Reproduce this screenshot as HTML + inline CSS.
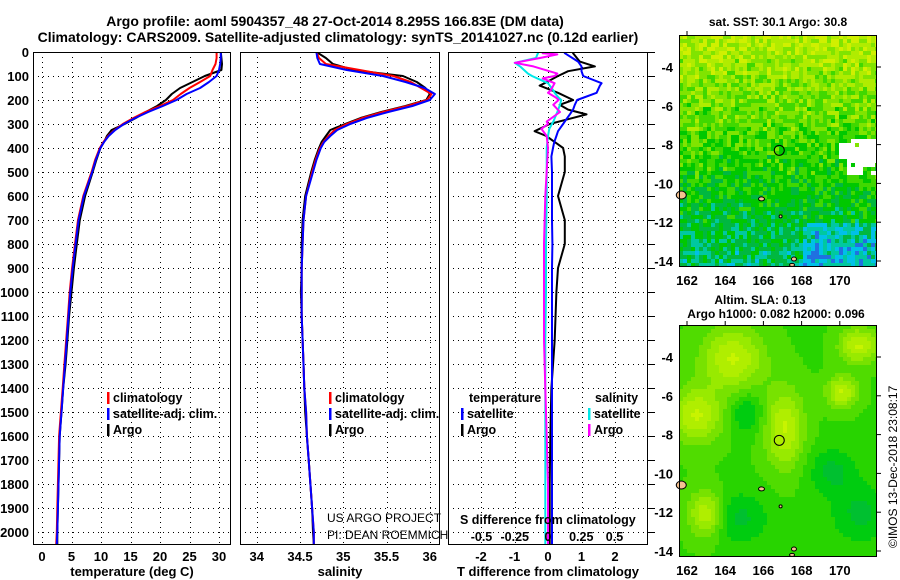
<!DOCTYPE html>
<html><head><meta charset="utf-8"><style>
html,body{margin:0;padding:0;background:#fff;}
svg{display:block;font-family:"Liberation Sans",sans-serif;}
.b{font-weight:bold;}
</style></head><body>
<svg id="fig" width="900" height="580" viewBox="0 0 900 580">
<text class="b" x="335" y="26" font-size="14" text-anchor="middle">Argo profile: aoml 5904357_48 27-Oct-2014 8.295S 166.83E (DM data)</text>
<text class="b" x="338" y="42" font-size="14" text-anchor="middle">Climatology: CARS2009. Satellite-adjusted climatology: synTS_20141027.nc (0.12d earlier)</text>
<g id="plots"></g>
<g id="maps"></g>
<text x="897" y="548" font-size="12" transform="rotate(-90 897 548)">©IMOS 13-Dec-2018 23:08:17</text>
</svg>
<script>
// ---- data ----
const profDepth = [0,25,50,75,100,125,150,175,200,225,250,275,300,325,350,375,400,450,500,600,700,800,900,1000,1100,1200,1300,1400,1500,1600,1700,1800,1900,2000,2050];
const tempClim = [29.6,29.6,29.4,28.9,28.5,26.8,25,23.5,22.2,20,17.5,15.5,13.7,12.3,11.2,10.4,9.8,9,8.4,7,6.1,5.6,5.1,4.7,4.4,4.1,3.8,3.5,3.2,2.9,2.8,2.7,2.6,2.5,2.4];
const tempSat = [30.3,30.3,30.2,30,29.6,28.3,26.8,24.5,22.8,20.5,18,15.8,13.9,12.4,11.3,10.5,9.9,9.1,8.5,7.1,6.2,5.7,5.2,4.8,4.5,4.2,3.9,3.6,3.3,3.0,2.9,2.8,2.7,2.6,2.5];
const tempArgo = [30.3,30.4,30.5,30.4,27.6,25.5,23.4,22,21,19.5,17.6,15.9,14,11.8,11,10.5,9.9,9.2,8.6,7.3,6.4,5.9,5.4,5.0,4.6,4.3,4.0,3.6,3.3,3.0,2.9,2.8,2.7,2.6,2.6];
const salClim = [34.69,34.72,34.8,35.19,35.58,35.78,35.9,36.02,35.97,35.74,35.46,35.22,35.04,34.9,34.83,34.77,34.73,34.68,34.64,34.57,34.54,34.53,34.52,34.52,34.52,34.53,34.54,34.55,34.57,34.58,34.6,34.62,34.64,34.66,34.66];
const salSat = [34.69,34.7,34.73,35.04,35.46,35.72,35.94,36.06,36.0,35.8,35.52,35.27,35.08,34.93,34.85,34.78,34.74,34.69,34.65,34.57,34.54,34.53,34.52,34.52,34.52,34.53,34.54,34.55,34.57,34.58,34.6,34.62,34.64,34.66,34.66];
const salArgo = [34.69,34.8,34.88,35.12,35.69,35.85,35.95,36.0,35.96,35.72,35.44,35.2,35.02,34.85,34.8,34.75,34.72,34.67,34.63,34.56,34.53,34.52,34.52,34.51,34.52,34.53,34.54,34.55,34.56,34.58,34.6,34.62,34.64,34.65,34.66];
const tdDepth = [0,5,40,60,80,100,130,140,170,200,220,240,260,280,300,330,350,370,380,400,435,500,600,700,800,900,1000,1200,1400,1600,1800,2000,2050];
const tdSat = [0.5,0.5,0.9,1.0,1.0,1.05,1.6,1.55,1.45,0.87,0.8,0.75,0.65,0.55,0.45,0.3,0.25,0.2,0.18,0.15,0.1,0.12,0.12,0.12,0.13,0.12,0.12,0.12,0.12,0.12,0.12,0.12,0.12];
const tdArgo = [0.75,0.75,0.95,1.4,0.6,0.3,-0.1,-0.25,0.3,0.75,0.35,0.6,1.15,0.6,0.05,-0.4,-0.05,0.15,0.25,0.45,0.5,0.5,0.3,0.5,0.5,0.3,0.25,0.2,0.1,0.07,0.05,0.05,0.05];
const sdDepth = [0,5,10,25,45,60,90,100,110,130,160,170,190,200,220,250,290,300,320,350,400,600,800,1000,1200,1400,1600,1800,2000,2050];
const sdSat = [-0.075,-0.075,-0.08,-0.09,-0.25,-0.21,-0.15,-0.12,-0.08,0,0.04,0.05,0.08,0.1,0.09,0.07,0.04,0.03,0.01,0,-0.01,-0.01,-0.015,-0.015,-0.02,-0.02,-0.02,-0.02,-0.02,-0.02];
const sdArgo = [-0.04,-0.04,0.07,-0.06,-0.25,-0.11,0.07,0.05,-0.04,0.05,0.02,0,0.06,0.08,0.04,0.09,-0.01,0,-0.05,-0.01,0,-0.02,-0.03,-0.03,-0.03,-0.02,-0.01,0,0,0];
const depthTicks = [0,100,200,300,400,500,600,700,800,900,1000,1100,1200,1300,1400,1500,1600,1700,1800,1900,2000];
const tempTicks = [0,5,10,15,20,25,30];
const salTicks = [34,34.5,35,35.5,36];
const salTickLabels = ['34','34.5','35','35.5','36'];
const tdTicks = [-2,-1,0,1,2];
const sdTicks = [-0.5,-0.25,0,0.25,0.5];
const lonTicks = [162,164,166,168,170];
const latTicks = [-4,-6,-8,-10,-12,-14];
const argoLon = 166.83, argoLat = -8.295;

const NS='http://www.w3.org/2000/svg';
function el(tag, attrs, parent){const e=document.createElementNS(NS,tag);for(const k in attrs)e.setAttribute(k,attrs[k]);parent.appendChild(e);return e;}
const plots=document.getElementById('plots');
const PT=52, PB=545;
const yD = d => PT + d*0.24;

const panels=[
 {x0:33,x1:231,name:'temperature',fx:v=>42+v*5.9,ticks:tempTicks,labels:tempTicks.map(String),title:'temperature (deg C)'},
 {x0:240,x1:440,name:'salinity',fx:v=>300+(v-34.5)*86.5,ticks:salTicks,labels:salTickLabels,title:'salinity'},
 {x0:448,x1:648,name:'difference',fx:v=>548+v*33.5,ticks:tdTicks,labels:tdTicks.map(String),title:'T difference from climatology'}
];
const sx = v => 548 + v*133;

panels.forEach((p,pi)=>{
  const g=el('g',{},plots);
  
  
  const cid='clip'+pi;
  const cp=el('clipPath',{id:cid},g); el('rect',{x:p.x0,y:PT,width:p.x1-p.x0,height:PB-PT},cp);
  const grid=el('g',{stroke:'#000','stroke-width':1,'stroke-dasharray':'1,4'},g);
  
  
  depthTicks.forEach(d=>{ if(d>0) el('line',{x1:p.x0,x2:p.x1,y1:yD(d)+0.5,y2:yD(d)+0.5},grid); });
  p.ticks.forEach(t=>{ const x=Math.round(p.fx(t))+0.5; el('line',{x1:x,x2:x,y1:PT,y2:PB},grid); });
  p.ticks.forEach((t,i)=>{
    const tx=el('text',{x:p.fx(t),y:561,'font-size':13,'text-anchor':'middle','class':'b'},g);
    tx.textContent=p.labels[i];
    
    
  });
  const at=el('text',{x:(p.x0+p.x1)/2,y:576,'font-size':13,'text-anchor':'middle','class':'b'},g);
  at.textContent=p.title;
  
  
  p.g=g; p.clip='url(#'+cid+')';
});
depthTicks.forEach(d=>{
  const t=el('text',{x:29,y:yD(d)+5,'font-size':13,'text-anchor':'end','class':'b'},plots);
  t.textContent=String(d);
  
  
});
function line(p, fx, depths, vals, color, name){
  const pts=depths.map((d,i)=>fx(vals[i]).toFixed(1)+','+yD(d).toFixed(1)).join(' ');
  const l=el('polyline',{points:pts,fill:'none',stroke:color,'stroke-width':2,'clip-path':p.clip,'stroke-linejoin':'round'},p.g);
  
  
}
const P1=panels[0],P2=panels[1],P3=panels[2];
line(P1,P1.fx,profDepth,tempArgo,'#000','temp-argo-line');
line(P1,P1.fx,profDepth,tempClim,'#f00','temp-climatology-line');
line(P1,P1.fx,profDepth,tempSat,'#00f','temp-satellite-line');
line(P2,P2.fx,profDepth,salArgo,'#000','sal-argo-line');
line(P2,P2.fx,profDepth,salClim,'#f00','sal-climatology-line');
line(P2,P2.fx,profDepth,salSat,'#00f','sal-satellite-line');
line(P3,P3.fx,tdDepth,tdArgo,'#000','tdiff-argo-line');
line(P3,P3.fx,tdDepth,tdSat,'#00f','tdiff-satellite-line');
line(P3,sx,sdDepth,sdSat,'#00e8e8','sdiff-satellite-line');
line(P3,sx,sdDepth,sdArgo,'#f0f','sdiff-argo-line');
panels.forEach(p=>{
  const f=el('rect',{x:p.x0+0.5,y:PT+0.5,width:p.x1-p.x0-1,height:PB-PT-1,fill:'none',stroke:'#000','stroke-width':1},p.g);
  
  
});
depthTicks.forEach(d=>{ el('line',{x1:648,x2:655,y1:yD(d)+0.5,y2:yD(d)+0.5,stroke:'#000'},plots); });
function legend(g,x,y,color,label,name){
  el('rect',{x:x,y:y-10,width:2.5,height:12,fill:color},g);
  const t=el('text',{x:x+6,y:y,'font-size':12.5,'class':'b'},g);
  t.textContent=label;
  
  
}
legend(P1.g,107,402,'#f00','climatology','temp-legend-climatology');
legend(P1.g,107,418,'#00f','satellite-adj. clim.','temp-legend-satellite');
legend(P1.g,107,434,'#000','Argo','temp-legend-argo');
legend(P2.g,329,402,'#f00','climatology','sal-legend-climatology');
legend(P2.g,329,418,'#00f','satellite-adj. clim.','sal-legend-satellite');
legend(P2.g,329,434,'#000','Argo','sal-legend-argo');
function txt(g,x,y,s,size,cls,name,anchor){const t=el('text',{x:x,y:y,'font-size':size,'text-anchor':anchor||'start'},g);if(cls)t.setAttribute('class',cls);t.textContent=s;return t;}
txt(P3.g,469,402,'temperature',12.5,'b','diff-legend-temperature-heading');
txt(P3.g,595,402,'salinity',12.5,'b','diff-legend-salinity-heading');
legend(P3.g,461,418,'#00f','satellite','diff-legend-t-satellite');
legend(P3.g,461,434,'#000','Argo','diff-legend-t-argo');
legend(P3.g,588,418,'#00e8e8','satellite','diff-legend-s-satellite');
legend(P3.g,588,434,'#f0f','Argo','diff-legend-s-argo');
txt(P3.g,460,524,'S difference from climatology',12.5,'b','s-diff-axis-title');
sdTicks.forEach(t=>{ txt(P3.g,sx(t),541,String(t),12.5,'b','s-diff-tick-label','middle'); });
txt(plots,327,522,'US ARGO PROJECT',12,'','credit-project');
txt(plots,327,539,'PI: DEAN ROEMMICH',12,'','credit-pi');

// ---- maps ----
const maps=document.getElementById('maps');
function hash(i,j,s){let h=(i*374761393+j*668265263+s*982451653)|0;h=(h^(h>>>13))*1274126177|0;return ((h^(h>>>16))>>>0)/4294967295;}
function makeMap(y0,y1,latRef,title,kind){
  const x0=679,x1=877;
  const g=el('g',{},maps);
  
  
  const lonX=l=>687+(l-162)*19.1;
  const latY=l=>latRef+(-4-l)*19.4;
  const cs=4;
  const topPal=['#f0c000','#d0f000','#b0ec00','#80e400','#40d800','#00c800','#00b840','#00c8a0','#00c0e8','#2070e0','#0018c0'];
  const botPal=['#c8f400','#b0ee00','#98ea00','#78e200','#50dc00','#28d400','#00cc10','#00c030'];
  const blobs=[[164.3,-4.0,1.6,1.6],[162.4,-6.9,1.3,1.4],[167.0,-7.6,1.0,2.0],[170.9,-3.3,1.0,0.9],[162.9,-12.0,0.9,1.2],[170.0,-5.7,0.8,0.8]];
  const darks=[[164.6,-12.2,1.5,1.3],[171,-12,1.5,1.5],[165,-6.8,0.8,1.0],[169.5,-9.8,1.2,1.2]];
  for(let yy=y0;yy<y1;yy+=cs){
    for(let xx=x0;xx<x1;xx+=cs){
      const lon=162+(xx-687)/19.1, lat=-4-(yy-latRef)/19.4;
      let c;
      if(kind==='sst'){
        let base=2.1+(-lat-3)*0.4;
        if(lat<-12&&lon>168)base+=1.4;
        const n=hash(xx,yy,1);
        let lv=Math.round(base+(n-0.5)*2.6);
        lv=Math.max(0,Math.min(10,lv));
        c=topPal[lv];
        if(lon>170.2&&lon<171.9&&lat<-7.6&&lat>-9.5&&hash(xx,yy,2)<0.8)c='#fff';
        if(lon>169.8&&lon<170.7&&lat<-7.8&&lat>-8.6)c='#fff';
      } else {
        let f=0;blobs.forEach(b=>{const dx=(lon-b[0])/b[2],dy=(lat-b[1])/b[3];f+=Math.exp(-(dx*dx+dy*dy));});
        let dk=0;darks.forEach(b=>{const dx=(lon-b[0])/b[2],dy=(lat-b[1])/b[3];dk+=Math.exp(-(dx*dx+dy*dy));});
        let lv=Math.round(4.6-f*4.2+dk*2.2);lv=Math.max(0,Math.min(7,lv));c=botPal[lv];
      }
      el('rect',{x:xx,y:yy,width:Math.min(cs,x1-xx),height:Math.min(cs,y1-yy),fill:c},g);
    }
  }
  [[161.7,-10.6,5,4],[165.9,-10.8,3,2],[167.6,-13.9,2.5,2],[166.9,-11.7,1.5,1.5],[167.5,-14.2,2.5,1.5]].forEach(s=>{
    const isl=el('ellipse',{cx:lonX(s[0]),cy:latY(s[1]),rx:s[2],ry:s[3],fill:'#f4c090',stroke:'#000','stroke-width':1},g);
    
    
  });
  const c=el('circle',{cx:lonX(argoLon),cy:latY(argoLat),r:5,fill:'none',stroke:'#000','stroke-width':1},g);
  
  
  const fr=el('rect',{x:x0+0.5,y:y0+0.5,width:x1-x0-1,height:y1-y0-1,fill:'none',stroke:'#000'},g);
  
  
  lonTicks.forEach(l=>{
    el('line',{x1:lonX(l),x2:lonX(l),y1:y0,y2:y0-4,stroke:'#000'},g);
    txt(g,lonX(l),y1+18,String(l),13,'b',kind+'-lon-tick-label','middle');
  });
  latTicks.forEach(l=>{
    el('line',{x1:x1,x2:x1+4,y1:latY(l),y2:latY(l),stroke:'#000'},g);
    txt(g,673,latY(l)+5,String(l),13,'b',kind+'-lat-tick-label','end');
  });
  title.forEach((t,i)=>txt(g,t[1],t[2],t[0],12,'b',kind+'-map-title-'+(i+1),'middle'));
}
makeMap(35,267,67,[['sat. SST: 30.1 Argo: 30.8',778,26]],'sst');
makeMap(325,557,357,[['Altim. SLA: 0.13',760,304],['Argo h1000: 0.082 h2000: 0.096',776,318]],'sla');
</script>
</body></html>
